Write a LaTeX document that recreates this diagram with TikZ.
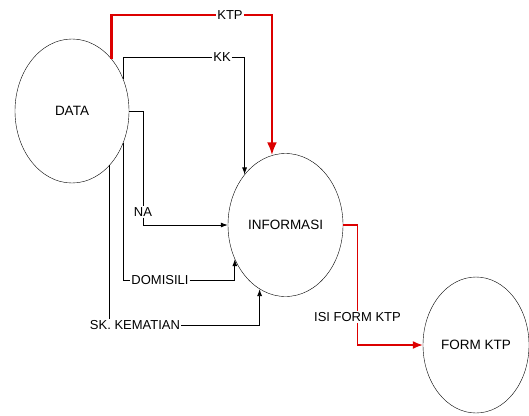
\documentclass[tikz,border=0pt]{standalone}
\usepackage{fontspec}
\setmainfont{Liberation Sans}
\usepackage{tikz}
\usetikzlibrary{arrows.meta,shapes.geometric,positioning}
\definecolor{flowred}{RGB}{220,0,0}
\tikzstyle{process}=[draw,ellipse,fill=white,inner sep=0pt,font=\fontsize{13.5}{15}\selectfont]
\tikzstyle{flowlabel}=[fill=white,inner sep=1pt,font=\fontsize{13}{15}\selectfont]

\begin{document}
\begin{tikzpicture}[x=1pt,y=-1pt,
datalink/.style={-{Latex[length=7pt,width=5pt]},line width=0.8pt},
mainlink/.style={-{Latex[length=13pt,width=10pt]},draw=flowred,line width=2.5pt}]
\useasboundingbox (0,0) rectangle (529,415);
% processes
\node [process,minimum width=114pt,minimum height=144pt] (data) at (72,111) {DATA};
\node [process,minimum width=115pt,minimum height=143pt] (info) at (285.5,225) {INFORMASI};
\node [process,minimum width=106pt,minimum height=136pt] (form) at (476,345) {FORM KTP};
% labels
\node [flowlabel] (ktp) at (230,15) {KTP};
\node [flowlabel] (kk) at (222,57) {KK};
\node [flowlabel] (na) at (143,212) {NA};
\node [flowlabel] (dom) at (160,280) {DOMISILI};
\node [flowlabel] (skm) at (135,325) {SK. KEMATIAN};
\node [flowlabel] (isi) at (357.5,317) {ISI FORM KTP};
% flows
\draw [mainlink,-] (data.53) |- (ktp);
\draw [mainlink] (ktp) -| (info.101);
\draw [datalink,-] (data.32) |- (kk);
\draw [datalink] (kk) -| (info.129);
\draw [datalink,-] (data.east) -| (na);
\draw [datalink] (na) |- (info.west);
\draw [datalink,-] (data.-32) |- (dom);
\draw [datalink] (dom) -| (info.214);
\draw [datalink,-] (data.-55) -- (data.-55 |- skm.north);
\draw [datalink] (skm) -| (info.248);
\draw [mainlink,-,line width=1.5pt] (info.east) -| (isi);
\draw [mainlink,-{Latex[length=10pt,width=8pt]},line width=1.5pt] (isi) |- (form.west);
\end{tikzpicture}
\end{document}
